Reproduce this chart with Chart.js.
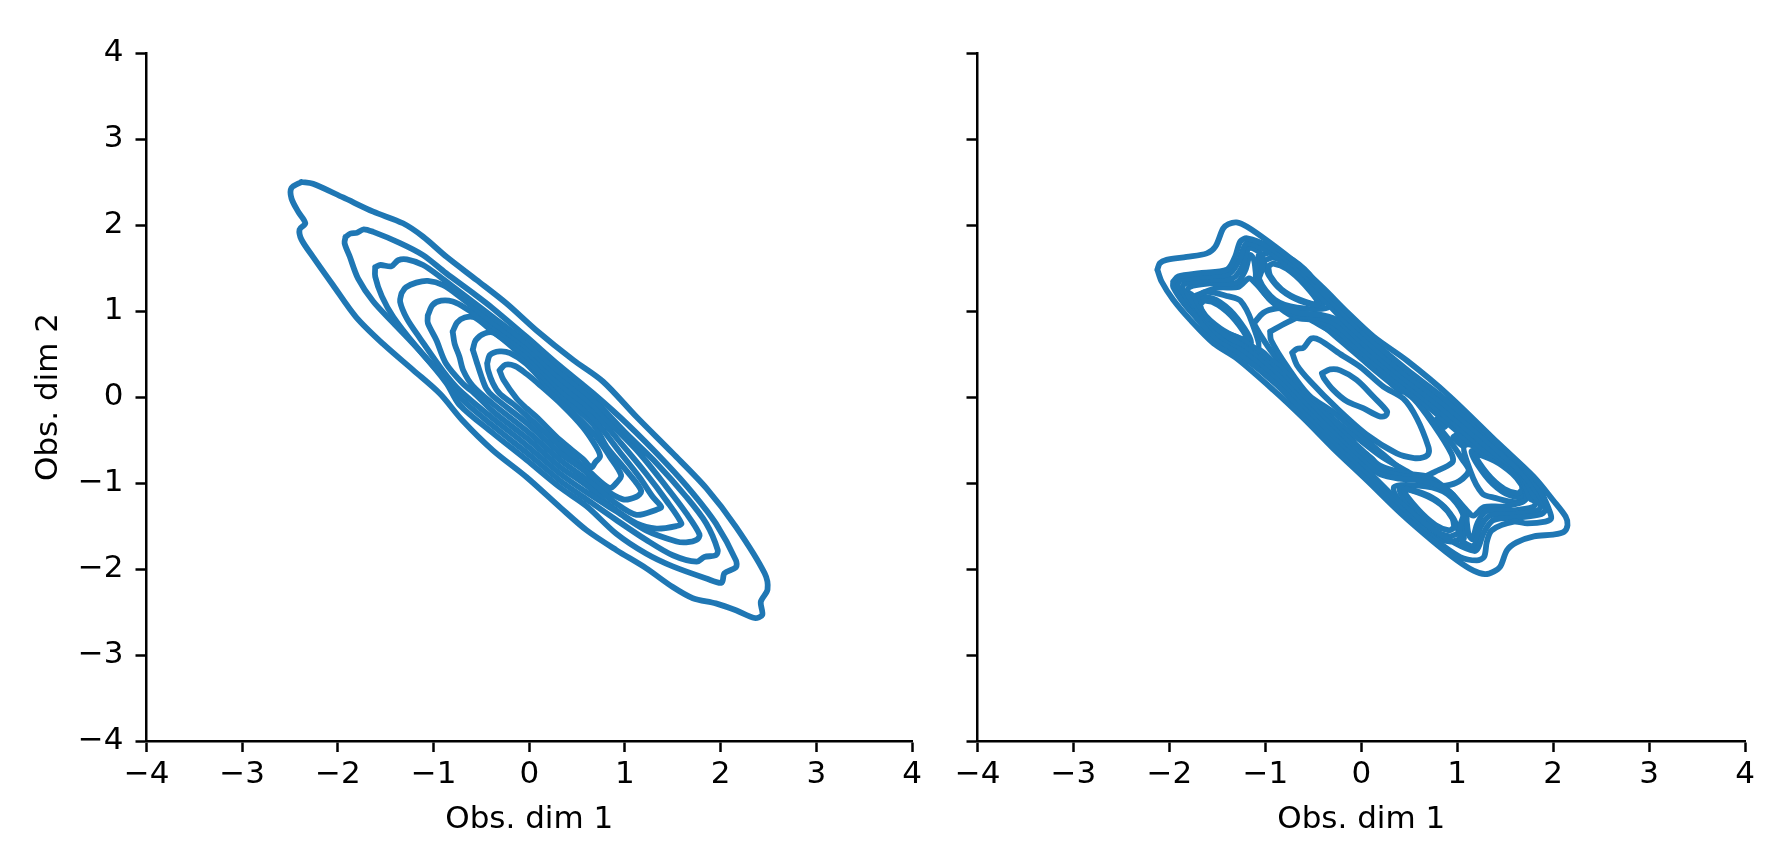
<!DOCTYPE html>
<html>
<head>
<meta charset="utf-8">
<script src="https://cdn.jsdelivr.net/npm/chart.js@4"></script>
<style>
  html, body { margin: 0; padding: 0; background: #fff; overflow: hidden; }
  #wrap { position: relative; width: 1786px; height: 861px; }
  .panel { position: absolute; top: 0; height: 861px; }
</style>
</head>
<body>
<div id="wrap">
  <div class="panel" style="left:0;width:960px"><canvas id="left-chart"></canvas></div>
  <div class="panel" style="left:893px;width:893px"><canvas id="right-chart"></canvas></div>
</div>
<script>
const xTickValues = [-4, -3, -2, -1, 0, 1, 2, 3, 4];
const yTickValues = [-4, -3, -2, -1, 0, 1, 2, 3, 4];
const xAxisTitle = 'Obs. dim 1';
const yAxisTitle = 'Obs. dim 2';

// left panel, contour levels from outside in
const leftLevel1 = [[-2.38,2.50],[-2.26,2.48],[-1.945,2.32],[-1.63,2.155],[-1.32,2.02],[-1.11,1.865],[-0.865,1.63],[-0.55,1.36],[-0.24,1.09],[0.07,0.78],[0.46,0.43],[0.77,0.18],[1.12,-0.23],[1.50,-0.655],[1.85,-1.06],[2.16,-1.51],[2.46,-2.05],[2.49,-2.24],[2.42,-2.38],[2.435,-2.535],[2.355,-2.57],[2.16,-2.48],[1.95,-2.40],[1.71,-2.34],[1.50,-2.21],[1.22,-1.99],[0.91,-1.78],[0.60,-1.55],[0.32,-1.28],[-0.03,-0.93],[-0.38,-0.62],[-0.70,-0.27],[-0.935,0.04],[-1.21,0.31],[-1.53,0.62],[-1.81,0.93],[-2.05,1.30],[-2.26,1.63],[-2.38,1.83],[-2.40,1.95],[-2.34,2.02],[-2.415,2.155],[-2.485,2.31],[-2.485,2.43]];
const leftLevel2 = [[-1.92,1.86],[-1.87,1.90],[-1.80,1.91],[-1.73,1.95],[-1.63,1.92],[-1.35,1.79],[-1.11,1.65],[-0.87,1.44],[-0.59,1.21],[-0.38,1.03],[-0.03,0.70],[0.32,0.36],[0.67,0.04],[1.02,-0.31],[1.43,-0.77],[1.71,-1.12],[1.95,-1.47],[2.16,-1.90],[2.16,-1.98],[2.04,-2.05],[2.01,-2.16],[1.85,-2.11],[1.50,-1.97],[1.22,-1.82],[0.91,-1.59],[0.60,-1.27],[0.32,-1.05],[-0.03,-0.73],[-0.38,-0.42],[-0.73,-0.09],[-0.865,0.16],[-1.14,0.53],[-1.42,0.86],[-1.63,1.11],[-1.79,1.38],[-1.875,1.63],[-1.93,1.79]];
const leftLevel3 = [[-1.61,1.51],[-1.555,1.535],[-1.44,1.52],[-1.37,1.59],[-1.28,1.60],[-1.11,1.535],[-0.935,1.40],[-0.73,1.225],[-0.38,0.93],[-0.03,0.63],[0.32,0.29],[0.67,-0.03],[1.01,-0.42],[1.33,-0.77],[1.64,-1.16],[1.85,-1.47],[1.97,-1.78],[1.95,-1.84],[1.83,-1.86],[1.75,-1.915],[1.50,-1.84],[1.22,-1.66],[0.91,-1.43],[0.60,-1.19],[0.32,-0.97],[-0.03,-0.645],[-0.38,-0.335],[-0.73,0.00],[-0.935,0.275],[-1.18,0.585],[-1.42,0.93],[-1.54,1.17],[-1.61,1.40]];
const leftLevel4 = [[-1.335,1.205],[-1.29,1.275],[-1.18,1.33],[-1.06,1.35],[-0.90,1.30],[-0.73,1.17],[-0.38,0.865],[-0.03,0.58],[0.32,0.22],[0.67,-0.10],[0.84,-0.30],[1.14,-0.64],[1.43,-1.04],[1.64,-1.35],[1.78,-1.60],[1.75,-1.66],[1.64,-1.69],[1.54,-1.68],[1.22,-1.55],[0.91,-1.33],[0.60,-1.11],[0.32,-0.89],[-0.03,-0.56],[-0.38,-0.25],[-0.73,0.08],[-0.90,0.30],[-1.14,0.68],[-1.28,0.915],[-1.35,1.11]];
const leftLevel5 = [[-1.06,0.95],[-1.01,1.07],[-0.92,1.12],[-0.80,1.11],[-0.66,1.03],[-0.38,0.82],[-0.03,0.53],[0.32,0.15],[0.67,-0.17],[0.96,-0.54],[1.22,-0.89],[1.43,-1.20],[1.59,-1.47],[1.54,-1.50],[1.33,-1.53],[1.12,-1.47],[0.84,-1.26],[0.60,-1.03],[0.32,-0.81],[-0.03,-0.475],[-0.38,-0.165],[-0.59,0.06],[-0.69,0.15],[-0.87,0.39],[-0.97,0.66],[-1.06,0.86]];
const leftLevel6 = [[-0.80,0.76],[-0.755,0.865],[-0.675,0.925],[-0.57,0.925],[-0.38,0.76],[-0.03,0.48],[0.32,0.09],[0.67,-0.25],[0.945,-0.64],[1.15,-0.93],[1.29,-1.16],[1.38,-1.28],[1.33,-1.31],[1.12,-1.37],[0.91,-1.24],[0.60,-0.96],[0.32,-0.73],[-0.03,-0.39],[-0.38,-0.08],[-0.59,0.13],[-0.69,0.31],[-0.73,0.47],[-0.78,0.62]];
const leftLevel7 = [[-0.59,0.55],[-0.56,0.66],[-0.465,0.74],[-0.36,0.74],[-0.03,0.43],[0.32,0.03],[0.67,-0.32],[0.81,-0.58],[0.98,-0.81],[1.12,-1.00],[1.17,-1.10],[1.12,-1.16],[0.98,-1.19],[0.77,-1.06],[0.60,-0.88],[0.32,-0.65],[-0.03,-0.30],[-0.38,0.01],[-0.45,0.10],[-0.50,0.24],[-0.55,0.41]];
const leftLevel8 = [[-0.44,0.39],[-0.41,0.49],[-0.31,0.53],[-0.20,0.51],[-0.03,0.385],[0.32,-0.03],[0.67,-0.42],[0.84,-0.69],[0.96,-0.91],[0.91,-1.00],[0.84,-1.06],[0.63,-0.87],[0.32,-0.57],[-0.03,-0.215],[-0.17,-0.08],[-0.31,0.04],[-0.38,0.16],[-0.43,0.31]];
const leftLevel9 = [[-0.31,0.31],[-0.25,0.375],[-0.15,0.36],[-0.03,0.27],[0.11,0.14],[0.35,-0.10],[0.56,-0.35],[0.70,-0.58],[0.74,-0.69],[0.69,-0.76],[0.65,-0.82],[0.56,-0.72],[0.32,-0.50],[0.075,-0.23],[-0.03,-0.13],[-0.13,-0.02],[-0.27,0.20]];

// right panel, outer contours that run round the whole ridge
const rightLevel1 = [[-2.125,1.48],[-2.10,1.555],[-2.03,1.595],[-1.82,1.63],[-1.61,1.67],[-1.52,1.75],[-1.44,1.96],[-1.385,2.01],[-1.30,2.03],[-1.19,1.98],[-0.97,1.81],[-0.67,1.55],[-0.39,1.26],[-0.15,0.99],[0.13,0.70],[0.48,0.42],[0.91,0.02],[1.43,-0.54],[1.80,-0.93],[2.00,-1.20],[2.13,-1.39],[2.15,-1.49],[2.11,-1.57],[2.00,-1.60],[1.80,-1.62],[1.62,-1.69],[1.52,-1.78],[1.45,-1.97],[1.38,-2.03],[1.29,-2.06],[1.17,-2.02],[1.00,-1.90],[0.75,-1.68],[0.41,-1.35],[0.06,-0.97],[-0.29,-0.60],[-0.60,-0.25],[-0.915,0.08],[-1.30,0.45],[-1.54,0.625],[-1.785,0.90],[-1.96,1.13],[-2.08,1.34]];
const rightLevel2 = [[-1.96,1.34],[-1.91,1.40],[-1.68,1.44],[-1.40,1.48],[-1.315,1.63],[-1.26,1.81],[-1.19,1.845],[-0.97,1.75],[-0.67,1.50],[-0.41,1.225],[-0.17,0.95],[0.11,0.66],[0.46,0.33],[0.80,0.04],[1.10,-0.24],[1.40,-0.53],[1.70,-0.84],[1.87,-1.10],[1.95,-1.29],[1.98,-1.41],[1.92,-1.45],[1.73,-1.47],[1.59,-1.45],[1.36,-1.55],[1.31,-1.68],[1.28,-1.86],[1.205,-1.90],[1.03,-1.86],[0.75,-1.64],[0.41,-1.295],[0.06,-0.91],[-0.29,-0.54],[-0.60,-0.19],[-0.88,0.14],[-1.26,0.49],[-1.51,0.66],[-1.715,0.915],[-1.85,1.09],[-1.96,1.28]];
const rightLevel3 = [[-1.92,1.30],[-1.88,1.36],[-1.66,1.40],[-1.38,1.43],[-1.28,1.57],[-1.22,1.75],[-1.18,1.79],[-0.98,1.70],[-0.70,1.46],[-0.44,1.19],[-0.20,0.91],[0.08,0.62],[0.43,0.29],[0.77,0.00],[1.07,-0.28],[1.37,-0.57],[1.67,-0.88],[1.84,-1.12],[1.92,-1.30],[1.88,-1.36],[1.66,-1.40],[1.38,-1.43],[1.28,-1.57],[1.22,-1.75],[1.18,-1.79],[0.98,-1.70],[0.70,-1.50],[0.41,-1.235],[0.06,-0.85],[-0.29,-0.48],[-0.60,-0.13],[-0.88,0.20],[-1.26,0.55],[-1.40,0.62],[-1.67,0.88],[-1.84,1.12]];
const rightLevel4 = [[-1.87,1.26],[-1.84,1.32],[-1.62,1.36],[-1.34,1.38],[-1.24,1.52],[-1.19,1.70],[-1.16,1.74],[-1.04,1.66],[-1.03,1.50],[-1.07,1.33],[-0.92,1.10],[-0.66,0.98],[-0.40,0.95],[-0.23,0.88],[0.05,0.59],[0.40,0.26],[0.73,-0.03],[1.03,-0.31],[1.33,-0.60],[1.65,-0.88],[1.80,-1.15],[1.87,-1.26],[1.84,-1.32],[1.62,-1.36],[1.34,-1.38],[1.24,-1.52],[1.19,-1.70],[1.16,-1.74],[1.04,-1.66],[1.03,-1.50],[1.07,-1.33],[0.92,-1.10],[0.66,-0.98],[0.40,-0.95],[0.20,-0.90],[0.06,-0.79],[-0.29,-0.42],[-0.60,-0.07],[-0.88,0.26],[-1.26,0.61],[-1.65,0.88],[-1.80,1.15]];
const rightLevel5 = [[-1.82,1.22],[-1.79,1.28],[-1.58,1.32],[-1.30,1.33],[-1.21,1.47],[-1.16,1.65],[-1.12,1.60],[-1.10,1.45],[-1.09,1.34],[-0.92,1.12],[-0.68,0.95],[-0.44,0.92],[-0.26,0.84],[0.02,0.56],[0.37,0.23],[0.70,-0.06],[1.00,-0.34],[1.30,-0.63],[1.63,-0.85],[1.76,-1.18],[1.82,-1.22],[1.79,-1.28],[1.58,-1.32],[1.30,-1.33],[1.21,-1.47],[1.16,-1.65],[1.12,-1.60],[1.10,-1.45],[1.09,-1.34],[0.92,-1.12],[0.68,-0.95],[0.44,-0.92],[0.20,-0.85],[0.06,-0.73],[-0.29,-0.36],[-0.60,-0.01],[-0.88,0.32],[-1.30,0.65],[-1.63,0.85],[-1.76,1.18]];
const rightLevel6 = [[-1.72,1.18],[-1.50,1.27],[-1.28,1.28],[-1.17,1.38],[-1.10,1.32],[-0.92,1.10],[-0.70,0.93],[-0.47,0.89],[-0.29,0.81],[-0.01,0.53],[0.34,0.20],[0.67,-0.09],[0.97,-0.37],[1.27,-0.66],[1.58,-0.83],[1.72,-1.18],[1.50,-1.27],[1.28,-1.28],[1.17,-1.38],[1.10,-1.32],[0.92,-1.10],[0.70,-0.93],[0.47,-0.89],[0.20,-0.80],[0.06,-0.67],[-0.29,-0.31],[-0.60,0.05],[-0.88,0.38],[-1.27,0.68],[-1.58,0.83]];

// right panel, contours round the four side modes
const rightModeA1 = [[-0.97,1.52],[-0.915,1.55],[-0.775,1.49],[-0.585,1.30],[-0.445,1.08],[-0.64,1.13],[-0.83,1.25],[-0.95,1.41]];
const rightModeA2 = [[-1.02,1.58],[-0.92,1.62],[-0.74,1.54],[-0.54,1.33],[-0.40,1.07],[-0.64,1.12],[-0.83,1.24],[-0.96,1.41]];
const rightModeA3 = [[-1.07,1.64],[-0.92,1.68],[-0.71,1.59],[-0.50,1.37],[-0.34,1.05],[-0.67,1.04],[-0.90,1.13],[-1.06,1.36]];
const rightModeB1 = [[-1.68,1.08],[-1.63,1.12],[-1.49,1.07],[-1.315,0.895],[-1.19,0.67],[-1.385,0.74],[-1.575,0.89],[-1.67,1.02]];
const rightModeB2 = [[-1.72,1.11],[-1.63,1.16],[-1.47,1.10],[-1.29,0.91],[-1.15,0.63],[-1.39,0.70],[-1.60,0.85],[-1.70,1.00]];
const rightModeB3 = [[-1.78,1.08],[-1.63,1.22],[-1.38,1.17],[-1.26,1.12],[-1.14,0.87],[-1.08,0.56],[-1.41,0.66],[-1.63,0.82]];
const rightModeC1 = [[0.97,-1.52],[0.915,-1.55],[0.775,-1.49],[0.585,-1.30],[0.445,-1.08],[0.64,-1.13],[0.83,-1.25],[0.95,-1.41]];
const rightModeC2 = [[1.02,-1.58],[0.92,-1.62],[0.74,-1.54],[0.54,-1.33],[0.40,-1.07],[0.64,-1.12],[0.83,-1.24],[0.96,-1.41]];
const rightModeC3 = [[1.07,-1.64],[0.92,-1.68],[0.71,-1.59],[0.50,-1.37],[0.34,-1.05],[0.67,-1.04],[0.90,-1.13],[1.06,-1.36]];
const rightModeD1 = [[1.68,-1.08],[1.63,-1.12],[1.49,-1.07],[1.315,-0.895],[1.19,-0.67],[1.385,-0.74],[1.575,-0.89],[1.67,-1.02]];
const rightModeD2 = [[1.72,-1.11],[1.63,-1.16],[1.47,-1.10],[1.29,-0.91],[1.15,-0.63],[1.39,-0.70],[1.60,-0.85],[1.70,-1.00]];
const rightModeD3 = [[1.78,-1.08],[1.63,-1.22],[1.38,-1.17],[1.26,-1.12],[1.14,-0.87],[1.08,-0.56],[1.41,-0.66],[1.63,-0.82]];

// right panel, contours round the centre
const rightCentre1 = [[-0.41,0.275],[-0.325,0.32],[-0.22,0.31],[-0.05,0.20],[0.13,0.00],[0.27,-0.17],[0.25,-0.22],[0.18,-0.22],[0.02,-0.13],[-0.15,-0.05],[-0.29,0.08],[-0.39,0.22]];
const rightCentre2 = [[-0.72,0.515],[-0.67,0.56],[-0.60,0.575],[-0.52,0.68],[-0.43,0.66],[-0.22,0.50],[-0.01,0.35],[0.23,0.12],[0.44,-0.02],[0.58,-0.25],[0.70,-0.58],[0.70,-0.66],[0.65,-0.70],[0.55,-0.71],[0.37,-0.655],[0.06,-0.44],[-0.255,-0.13],[-0.53,0.18],[-0.67,0.37]];
const rightCentre3 = [[-0.95,0.76],[-0.777,0.865],[-0.60,0.94],[-0.43,0.85],[-0.22,0.66],[0.06,0.39],[0.30,0.17],[0.545,-0.02],[0.77,-0.35],[0.94,-0.66],[0.95,-0.76],[0.777,-0.865],[0.60,-0.94],[0.43,-0.85],[0.22,-0.66],[-0.06,-0.39],[-0.30,-0.17],[-0.545,0.02],[-0.77,0.35],[-0.94,0.66]];
const rightCentre4 = [[-1.12,0.855],[-1.02,0.98],[-0.88,1.03],[-0.71,1.03],[-0.50,0.88],[-0.22,0.70],[0.06,0.46],[0.30,0.25],[0.58,-0.05],[0.77,-0.30],[0.93,-0.52],[1.05,-0.72],[1.12,-0.855],[1.02,-0.98],[0.88,-1.03],[0.71,-1.03],[0.50,-0.88],[0.22,-0.70],[-0.06,-0.46],[-0.30,-0.25],[-0.58,0.05],[-0.77,0.30],[-0.93,0.52],[-1.05,0.72]];

// right panel, short contours in the lanes between the side modes and the centre
const rightLaneA = [[0.80,-0.25],[0.88,-0.33],[0.86,-0.35],[0.78,-0.27]];
const rightLaneB = [[0.98,-0.45],[1.08,-0.55],[1.06,-0.57],[0.96,-0.47]];
const rightLaneC = [[-0.75,0.17],[-0.40,-0.17],[-0.42,-0.19],[-0.77,0.15]];
const rightLaneD = [[-0.98,0.43],[-1.08,0.53],[-1.06,0.55],[-0.96,0.45]];
const rightLaneE = [[-0.20,-0.39],[-0.08,-0.52],[-0.10,-0.54],[-0.22,-0.41]];
const rightLaneF = [[0.06,-0.67],[0.13,-0.74],[0.11,-0.76],[0.04,-0.69]];
const rightLaneG = [[0.30,0.21],[0.44,0.08],[0.42,0.06],[0.28,0.19]];

const leftLevels = [leftLevel1, leftLevel2, leftLevel3, leftLevel4, leftLevel5, leftLevel6, leftLevel7, leftLevel8, leftLevel9];
const rightLevels = [rightLevel1, rightLevel2, rightLevel3, rightLevel4, rightLevel5, rightLevel6,
  rightModeA1, rightModeA2, rightModeA3, rightModeB1, rightModeB2, rightModeB3,
  rightModeC1, rightModeC2, rightModeC3, rightModeD1, rightModeD2, rightModeD3,
  rightCentre1, rightCentre2, rightCentre3, rightCentre4,
  rightLaneA, rightLaneB, rightLaneC, rightLaneD, rightLaneE, rightLaneF, rightLaneG];

const lineColor = '#1f77b4';
const fontFamily = '"DejaVu Sans"';
const fontSize = 31;

function contourDatasets(levels) {
  return levels.map((points) => ({
    data: [...points, points[0]].map(([x, y]) => ({ x, y })),
    showLine: true,
    borderColor: lineColor,
    borderWidth: 5.8,
    borderJoinStyle: 'round',
    borderCapStyle: 'round',
    tension: 0.3,
    pointRadius: 0,
    fill: false,
  }));
}

function fixedTicks(values) {
  return (axis) => {
    axis.ticks = values.map((value) => ({ value }));
  };
}

function minusLabel(value) {
  return String(value).replace('-', '\u2212');
}

function panelConfig(levels, opts) {
  return {
    type: 'scatter',
    data: { datasets: contourDatasets(levels) },
    options: {
      responsive: false,
      animation: false,
      layout: { padding: { top: 53, right: opts.right, bottom: 0, left: 0 } },
      plugins: { legend: { display: false }, tooltip: { enabled: false } },
      scales: {
        x: {
          type: 'linear',
          min: -4,
          max: 4,
          afterBuildTicks: fixedTicks(xTickValues),
          afterFit: (axis) => { axis.height = 120; },
          border: { color: '#000', width: 2.5 },
          grid: { drawOnChartArea: false, color: '#000', tickColor: '#000', tickLength: 11, tickWidth: 2.5 },
          ticks: {
            color: '#000',
            maxRotation: 0,
            padding: 4,
            font: { family: fontFamily, size: fontSize },
            callback: minusLabel,
          },
          title: {
            display: true,
            text: xAxisTitle,
            color: '#000',
            padding: { top: 0, bottom: 22 },
            font: { family: fontFamily, size: fontSize },
          },
        },
        y: {
          type: 'linear',
          min: -4,
          max: 4,
          afterBuildTicks: fixedTicks(yTickValues),
          afterFit: (axis) => { axis.width = opts.left; },
          border: { color: '#000', width: 2.5 },
          grid: { drawOnChartArea: false, color: '#000', tickColor: '#000', tickLength: 11, tickWidth: 2.5 },
          ticks: {
            color: '#000',
            padding: 12,
            font: { family: fontFamily, size: fontSize },
            callback: opts.yLabels ? minusLabel : () => '',
          },
          title: {
            display: opts.yLabels,
            text: yAxisTitle,
            color: '#000',
            padding: { top: 30, bottom: 0 },
            font: { family: fontFamily, size: fontSize },
          },
        },
      },
    },
  };
}

function createCharts() {
  const leftCanvas = document.getElementById('left-chart');
  const rightCanvas = document.getElementById('right-chart');
  leftCanvas.width = 960;
  leftCanvas.height = 861;
  rightCanvas.width = 893;
  rightCanvas.height = 861;
  new Chart(leftCanvas.getContext('2d'), panelConfig(leftLevels, { left: 146.5, right: 48, yLabels: true }));
  new Chart(rightCanvas.getContext('2d'), panelConfig(rightLevels, { left: 84.5, right: 41, yLabels: false }));
}

createCharts();
</script>
</body>
</html>
